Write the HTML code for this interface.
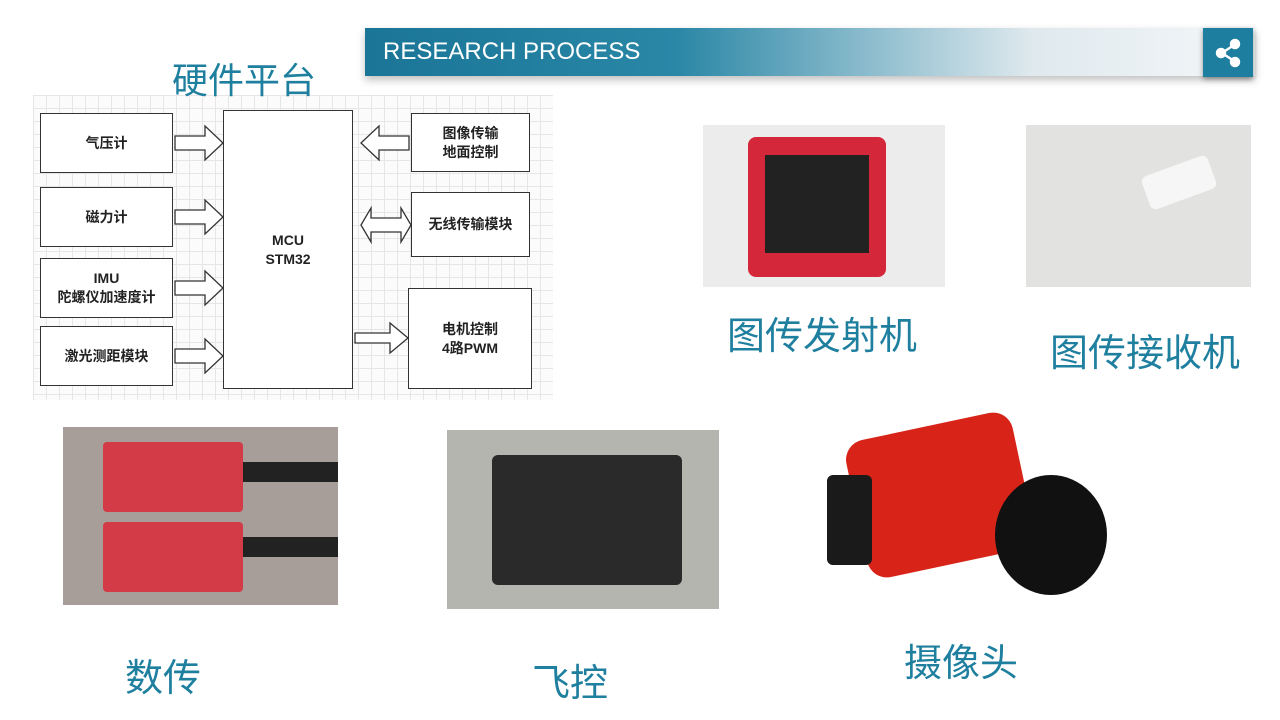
<!DOCTYPE html>
<html><head><meta charset="utf-8"><style>
*{margin:0;padding:0;box-sizing:border-box}
body{width:1280px;height:720px;background:#fff;position:relative;overflow:hidden;font-family:"Liberation Sans","Noto Sans CJK SC",sans-serif}
.abs{position:absolute}
.lbl{position:absolute;color:#1f7f9f;font-size:38px;font-family:"Liberation Sans","Noto Sans CJK SC",sans-serif;white-space:nowrap}
.box{position:absolute;border:1.5px solid #333;background:#fff;display:flex;align-items:center;justify-content:center;text-align:center;font-size:14px;font-weight:bold;color:#222;line-height:1.35}
</style></head><body>
<div class="abs" style="left:365px;top:28px;width:890px;height:48px;background:linear-gradient(90deg,#1a7596 0%,#2a87a6 35%,#dfe9ee 75%,#f4f7f9 100%);box-shadow:0 4px 8px rgba(0,0,0,0.25)"></div>
<div class="abs" style="left:383px;top:38px;color:#fff;font-size:24px">RESEARCH PROCESS</div>
<div class="abs" style="left:1203px;top:28px;width:50px;height:49px;background:#1e7ea0;box-shadow:0 2px 5px rgba(0,0,0,0.4)">
<svg width="50" height="49" viewBox="0 0 50 49"><g fill="#fff" stroke="#fff" stroke-width="2.5"><line x1="19" y1="25" x2="31" y2="17"/><line x1="19" y1="25" x2="31" y2="33"/><circle cx="18" cy="25" r="4"/><circle cx="32" cy="16" r="4"/><circle cx="32" cy="34" r="4"/></g></svg></div>
<div class="abs" style="left:33px;top:95px;width:520px;height:305px;background-color:#fbfbfb;background-image:linear-gradient(#e6e6e6 1px,transparent 1px),linear-gradient(90deg,#e6e6e6 1px,transparent 1px);background-size:13px 13px"></div>
<div class="lbl" style="left:172px;top:52px;font-size:36px">硬件平台</div>
<div class="box" style="left:40px;top:113px;width:133px;height:60px">气压计</div>
<div class="box" style="left:40px;top:187px;width:133px;height:60px">磁力计</div>
<div class="box" style="left:40px;top:258px;width:133px;height:60px">IMU<br>陀螺仪加速度计</div>
<div class="box" style="left:40px;top:326px;width:133px;height:60px">激光测距模块</div>
<div class="box" style="left:223px;top:110px;width:130px;height:279px">MCU<br>STM32</div>
<div class="box" style="left:411px;top:113px;width:119px;height:59px">图像传输<br>地面控制</div>
<div class="box" style="left:411px;top:192px;width:119px;height:65px">无线传输模块</div>
<div class="box" style="left:408px;top:288px;width:124px;height:101px">电机控制<br>4路PWM</div>
<svg class="abs" style="left:0;top:0" width="560" height="400">
<g fill="#fff" stroke="#333" stroke-width="1.3">
<path d="M175 136h30v-10l18 17-18 17v-10h-30z"/>
<path d="M175 210h30v-10l18 17-18 17v-10h-30z"/>
<path d="M175 281h30v-10l18 17-18 17v-10h-30z"/>
<path d="M175 349h30v-10l18 17-18 17v-10h-30z"/>
<path d="M409 136h-30v-10l-18 17 18 17v-10h30z"/>
<path d="M371 218h30v-10l10 17-10 17v-10h-30v10l-10-17 10-17z"/>
<path d="M355 333h35v-10l18 15-18 15v-10h-35z"/>
</g></svg>
<div class="abs" style="left:703px;top:125px;width:242px;height:162px;background:#ececec">
<div class="abs" style="left:45px;top:12px;width:138px;height:140px;background:#d4283a;border-radius:8px"></div>
<div class="abs" style="left:62px;top:30px;width:104px;height:98px;background:#222"></div></div>
<div class="abs" style="left:1026px;top:125px;width:225px;height:162px;background:#e2e2e0">
<div class="abs" style="left:118px;top:40px;width:70px;height:35px;background:#f6f6f6;border-radius:6px;transform:rotate(-20deg)"></div></div>
<div class="abs" style="left:63px;top:427px;width:275px;height:178px;background:#a79e9a">
<div class="abs" style="left:40px;top:15px;width:140px;height:70px;background:#d33b46;border-radius:4px"></div>
<div class="abs" style="left:40px;top:95px;width:140px;height:70px;background:#d33b46;border-radius:4px"></div>
<div class="abs" style="left:180px;top:35px;width:95px;height:20px;background:#222"></div>
<div class="abs" style="left:180px;top:110px;width:95px;height:20px;background:#222"></div></div>
<div class="abs" style="left:447px;top:430px;width:272px;height:179px;background:#b5b5b0">
<div class="abs" style="left:45px;top:25px;width:190px;height:130px;background:#2a2a2a;border-radius:6px"></div></div>
<div class="abs" style="left:825px;top:405px;width:285px;height:195px">
<div class="abs" style="left:30px;top:20px;width:170px;height:140px;background:#d82418;border-radius:20px;transform:rotate(-12deg)"></div>
<div class="abs" style="left:2px;top:70px;width:45px;height:90px;background:#1a1a1a;border-radius:6px"></div>
<div class="abs" style="left:170px;top:70px;width:112px;height:120px;background:#111;border-radius:50%"></div></div>
<div class="lbl" style="left:727px;top:305px">图传发射机</div>
<div class="lbl" style="left:1050px;top:322px">图传接收机</div>
<div class="lbl" style="left:125px;top:647px">数传</div>
<div class="lbl" style="left:532px;top:652px">飞控</div>
<div class="lbl" style="left:904px;top:632px">摄像头</div>
</body></html>
